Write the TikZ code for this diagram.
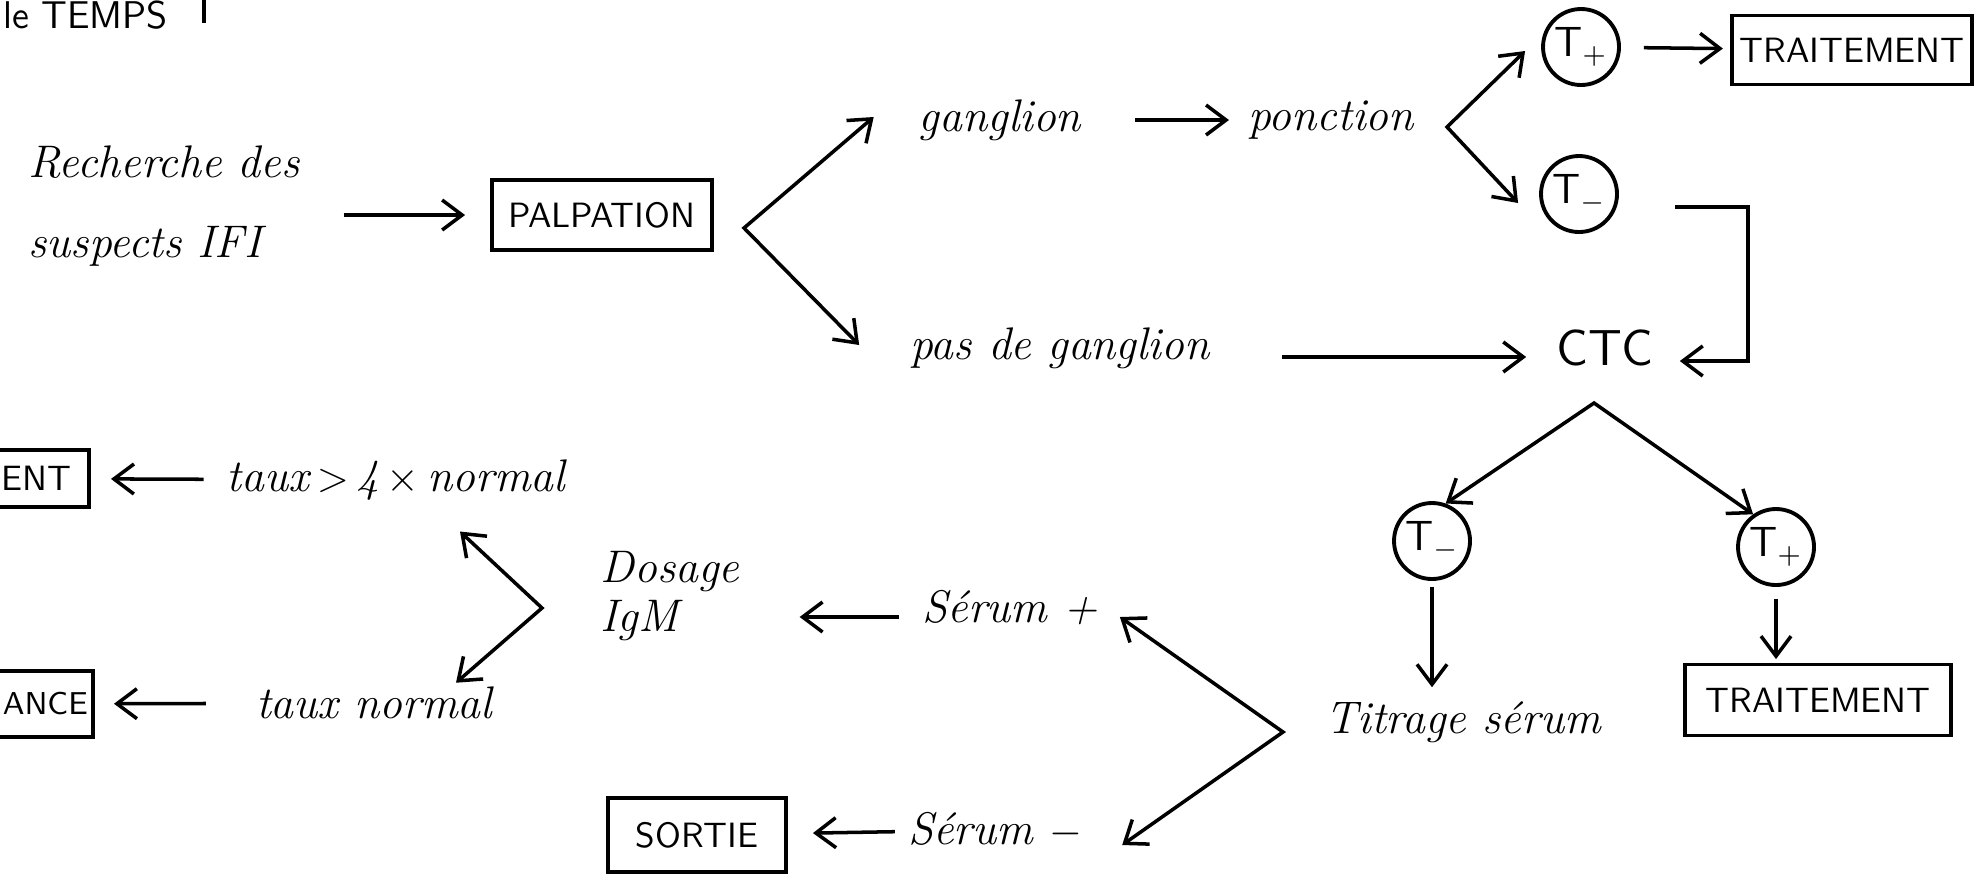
\documentclass[tikz,border=0pt]{standalone}
\usetikzlibrary{arrows.meta}
\begin{document}
\begin{tikzpicture}[
    fleche/.style={-{Straight Barb[length=2mm,width=3mm]},line width=1pt},
    fourche/.style={{Straight Barb[length=2mm,width=3mm]}-{Straight Barb[length=2mm,width=3mm]},line width=1pt},
    boite/.style={draw,line width=1.1pt,font=\sffamily,inner sep=2pt},
    rond/.style={draw,circle,line width=1.1pt,minimum size=0.76cm,inner sep=0pt,font=\large\sffamily},
    main/.style={font=\fontsize{13}{17}\selectfont\itshape,inner sep=1pt}]
\useasboundingbox (0,0) rectangle (19.87,-8.77);

% en haut a gauche
\node[anchor=east,font=\fontsize{11}{13}\selectfont\sffamily,inner sep=1pt] (temps) at (1.72,-0.15) {le TEMPS};
\draw[line width=1pt] (2.04,0) -- (2.04,-0.23);

% palpation
\node[main,align=left] (rech) at (1.64,-2.06) {Recherche des\\[0.2cm]suspects IFI};
\node[boite,minimum width=2.2cm,minimum height=0.7cm] (palp) at (6.02,-2.15) {PALPATION};
\coordinate (f1) at (7.44,-2.28);
\node[main] (gang) at (10.0,-1.20) {ganglion};
\node[main] (pas) at (10.6,-3.48) {pas de ganglion};
\node[main] (ponc) at (13.31,-1.20) {ponction};
\coordinate (f2) at (14.47,-1.27);
\node[rond] (tp1) at (15.81,-0.47) {T\textsubscript{+}};
\node[rond] (tm1) at (15.79,-1.94) {T\textsubscript{$-$}};
\node[boite,minimum width=2.37cm,minimum height=0.69cm] (trt1) at (18.52,-0.50) {TRAITEMENT};
\node[font=\Large\sffamily,inner sep=1pt] (ctc) at (16.05,-3.48) {CTC};
\coordinate (b1) at (16.75,-2.07);
\coordinate (b2) at (17.48,-3.61);

% CTC
\coordinate (f3) at (15.94,-4.03);
\node[rond] (tm2) at (14.32,-5.41) {T\textsubscript{$-$}};
\node[rond] (tp2) at (17.76,-5.47) {T\textsubscript{+}};
\node[main] (titr) at (14.63,-7.22) {Titrage sérum};
\node[boite,minimum width=2.66cm,minimum height=0.71cm] (trt2) at (18.18,-7.00) {TRAITEMENT};

% serum
\coordinate (f4) at (12.83,-7.32);
\node[main] (serp) at (10.10,-6.08) {Sérum +};
\node[main] (serm) at (9.95,-8.30) {Sérum $-$};
\node[main,align=left] (dos) at (6.70,-5.96) {Dosage\\[-3pt]IgM};
\node[boite,minimum width=1.78cm,minimum height=0.74cm] (sort) at (6.97,-8.35) {SORTIE};
\coordinate (f5) at (5.42,-6.08);
\node[main] (taux4) at (3.96,-4.80) {taux\,$>$\,4\,$\times$\,normal};
\node[main] (tauxn) at (3.74,-7.03) {taux normal};
\node[boite,anchor=east,text width=1.3cm,align=right,inner xsep=5pt,minimum height=0.57cm] (ent) at (0.91,-4.785) {ENT};
\node[boite,anchor=east,text width=1.3cm,align=right,inner xsep=1.5pt,minimum height=0.66cm,font=\small\sffamily] (ance) at (0.95,-7.04) {ANCE};

% fleches
\draw[fleche,shorten <=4mm,shorten >=2.5mm] (rech.east |- palp.west) -- (palp.west);
\draw[fourche] ([xshift=-4.1mm,yshift=0.3mm]gang.west) -- (f1) -- ([xshift=-4.7mm,yshift=0.3mm]pas.west);
\draw[fleche,shorten <=5mm,shorten >=1.5mm] (gang) -- (ponc);
\draw[fourche] ([xshift=-1.6mm,yshift=-0.4mm]tp1.west) -- (f2) -- ([xshift=-2.1mm,yshift=-0.9mm]tm1.west);
\draw[fleche,shorten <=2.3mm,shorten >=0.75mm] (tp1) -- (trt1);
\draw[fleche,shorten <=6.8mm,shorten >=2.6mm] ([yshift=-0.9mm]pas.east) -- ([yshift=-0.9mm]pas.east -| ctc.west);
\draw[fleche,shorten >=2.2mm] (b1) -| (b2) -- (b2 -| ctc.east);
\draw[fourche] (tm2.70) -- (f3) -- (tp2.125);
\draw[fleche,shorten <=0.6mm,shorten >=1mm] (tm2) -- (tm2 |- titr.north);
\draw[fleche,shorten <=1.2mm,shorten >=0.35mm] (tp2) -- (tp2 |- trt2.north);
\draw[fourche] ([xshift=1.8mm,yshift=-0.9mm]serp.east) -- (f4) -- ([xshift=3.6mm,yshift=-1.5mm]serm.east);
\draw[fleche,shorten <=1.9mm,shorten >=5.6mm] ([yshift=-0.9mm]serp.west) -- ([yshift=-0.9mm]serp.west -| dos.east);
\draw[fleche,shorten <=0.9mm,shorten >=2.5mm] (serm) -- (sort);
\draw[fourche] ([xshift=6.4mm,yshift=-2.7mm]taux4.south) -- (f5) -- ([xshift=8.2mm]tauxn.north);
\draw[fleche,shorten <=1.9mm,shorten >=2mm] (taux4) -- (ent);
\draw[fleche,shorten <=4.6mm,shorten >=1.9mm] (tauxn) -- (ance);
\end{tikzpicture}
\end{document}
